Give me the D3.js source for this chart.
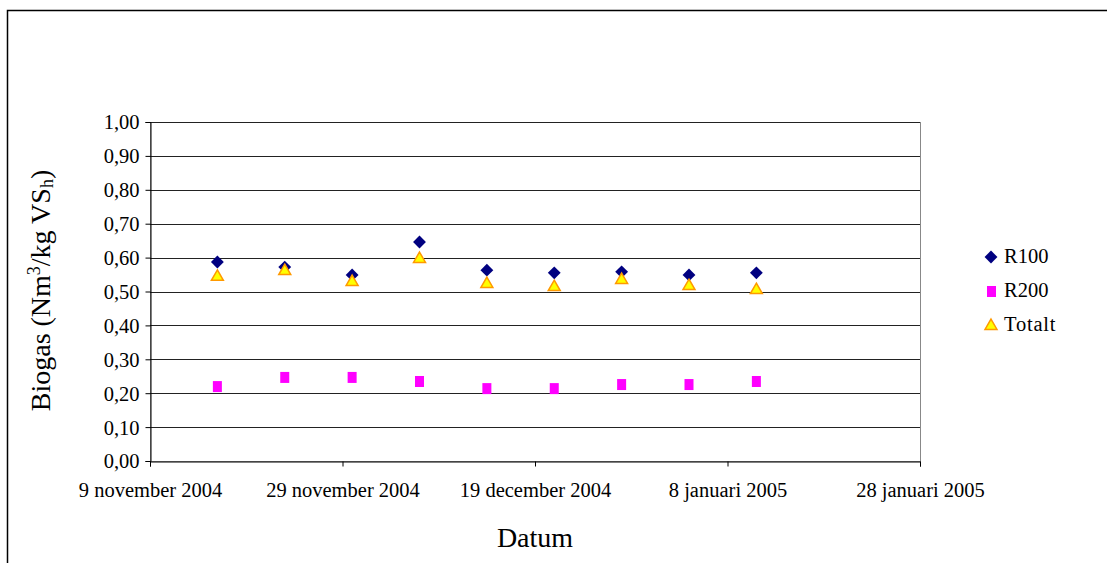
<!DOCTYPE html>
<html>
<head>
<meta charset="utf-8">
<script src="https://cdn.jsdelivr.net/npm/d3@7"></script>
<style>
  body { margin: 0; background: #fff; }
  svg text { font-family: "Liberation Serif", "Times New Roman", serif; fill: #000; }
</style>
</head>
<body>
<div id="chart"></div>
<script>
// data
var dates = ["2004-11-16", "2004-11-23", "2004-11-30", "2004-12-07", "2004-12-14",
             "2004-12-21", "2004-12-28", "2005-01-04", "2005-01-11"];
var r100 = [0.587, 0.572, 0.549, 0.646, 0.563, 0.555, 0.558, 0.549, 0.555];
var r200 = [0.221, 0.248, 0.248, 0.236, 0.215, 0.215, 0.227, 0.227, 0.236];
var totalt = [0.546, 0.563, 0.531, 0.599, 0.525, 0.516, 0.537, 0.519, 0.507];
var xTicks = ["2004-11-09", "2004-11-29", "2004-12-19", "2005-01-08", "2005-01-28"];
var xTickLabels = ["9 november 2004", "29 november 2004", "19 december 2004", "8 januari 2005", "28 januari 2005"];
var yTicks = [0, 0.1, 0.2, 0.3, 0.4, 0.5, 0.6, 0.7, 0.8, 0.9, 1.0];
var names = ["R100", "R200", "Totalt"];

var parse = d3.timeParse("%Y-%m-%d");

var W = 1107, H = 563;
var margin = {top: 122, right: 187, bottom: 102, left: 150},
    width = W - margin.left - margin.right,
    height = H - margin.top - margin.bottom;

var root = d3.select("#chart")
  .append("svg")
    .attr("width", W)
    .attr("height", H);

// outer chart border
root.append("rect")
  .attr("x", 7.5).attr("y", 10.5)
  .attr("width", W + 20).attr("height", H + 20)
  .attr("fill", "none").attr("stroke", "#000").attr("stroke-width", 1.5);

var svg = root.append("g")
  .attr("transform", "translate(" + margin.left + "," + margin.top + ")");

var x = d3.scaleTime()
  .domain([parse(xTicks[0]), parse(xTicks[xTicks.length - 1])])
  .range([0, width]);

var y = d3.scaleLinear()
  .domain([0, 1])
  .range([height, 0]);

// plot frame + gridlines
svg.append("rect")
  .attr("x", 0.5).attr("y", 0.5)
  .attr("width", width).attr("height", height)
  .attr("fill", "none").attr("stroke", "#888");

svg.append("g")
  .selectAll("line")
  .data(yTicks.slice(1))
  .enter()
  .append("line")
    .attr("x1", 0).attr("x2", width)
    .attr("y1", function(d) { return Math.round(y(d)) + 0.5; })
    .attr("y2", function(d) { return Math.round(y(d)) + 0.5; })
    .attr("stroke", "#222");

var fmt = function(d) { return d3.format(".2f")(d).replace(".", ","); };

var yAxis = svg.append("g")
  .attr("transform", "translate(0.5,0)")
  .call(d3.axisLeft(y).tickValues(yTicks).tickFormat(fmt).tickSize(5).tickPadding(6))
  .attr("font-family", null);
yAxis.select(".domain").attr("stroke", "#000");
yAxis.selectAll(".tick line").attr("stroke", "#000");
yAxis.selectAll("text")
  .attr("x", -11)
  .attr("dy", "0.34em")
  .style("font-size", "20.5px");

var xAxis = svg.append("g")
  .attr("transform", "translate(0," + (Math.round(height) + 0.5) + ")")
  .call(d3.axisBottom(x)
    .tickValues(xTicks.map(parse))
    .tickFormat(function(d, i) { return xTickLabels[i]; })
    .tickSize(5))
  .attr("font-family", null);
xAxis.select(".domain").attr("stroke", "#000");
xAxis.selectAll(".tick line").attr("stroke", "#000");
xAxis.selectAll("text")
  .attr("y", 35.5).attr("dy", 0)
  .style("font-size", "20.5px");

// series
var diamond = d3.symbol().type(d3.symbolDiamond2).size(105);
var tri = d3.symbol().type(d3.symbolTriangle).size(62);

svg.append("g")
  .selectAll("rect")
  .data(r200)
  .enter()
  .append("rect")
    .attr("x", function(d, i) { return x(parse(dates[i])) - 4.5; })
    .attr("y", function(d) { return y(d) - 5; })
    .attr("width", 9).attr("height", 11)
    .attr("fill", "#ff00ff");

svg.append("g")
  .selectAll("path")
  .data(r100)
  .enter()
  .append("path")
    .attr("d", diamond)
    .attr("transform", function(d, i) { return "translate(" + x(parse(dates[i])) + "," + y(d) + ")"; })
    .attr("fill", "#000080");

svg.append("g")
  .selectAll("path")
  .data(totalt)
  .enter()
  .append("path")
    .attr("d", tri)
    .attr("transform", function(d, i) { return "translate(" + x(parse(dates[i])) + "," + (y(d) + 1) + ")"; })
    .attr("fill", "#ffff00")
    .attr("stroke", "#ff9900")
    .attr("stroke-width", 1.5);

// legend
var legend = root.append("g");
legend.append("path").attr("d", diamond)
  .attr("transform", "translate(991,257)").attr("fill", "#000080");
legend.append("rect").attr("x", 987).attr("y", 286).attr("width", 9).attr("height", 11).attr("fill", "#ff00ff");
legend.append("path").attr("d", tri)
  .attr("transform", "translate(991,326)").attr("fill", "#ffff00").attr("stroke", "#ff9900").attr("stroke-width", 1.5);
legend.selectAll("text.lg")
  .data(names)
  .enter()
  .append("text")
    .attr("class", "lg")
    .attr("x", 1004)
    .attr("y", function(d, i) { return 263 + i * 34; })
    .style("font-size", "20.5px")
    .style("letter-spacing", function(d) { return d == "Totalt" ? "0.8px" : "0px"; })
    .text(function(d) { return d; });

// axis titles
root.append("text")
  .attr("x", margin.left + width / 2)
  .attr("y", 547)
  .attr("text-anchor", "middle")
  .style("font-size", "28px")
  .text("Datum");

var yt = root.append("text")
  .attr("transform", "translate(50," + (margin.top + height / 2 - 1) + ") rotate(-90)")
  .attr("text-anchor", "middle")
  .style("font-size", "28px");
yt.append("tspan").text("Biogas (Nm");
yt.append("tspan").attr("baseline-shift", "super").style("font-size", "18px").text("3");
yt.append("tspan").text("/kg VS");
yt.append("tspan").attr("baseline-shift", "-3px").style("font-size", "18px").text("h");
yt.append("tspan").text(")");
</script>
</body>
</html>
